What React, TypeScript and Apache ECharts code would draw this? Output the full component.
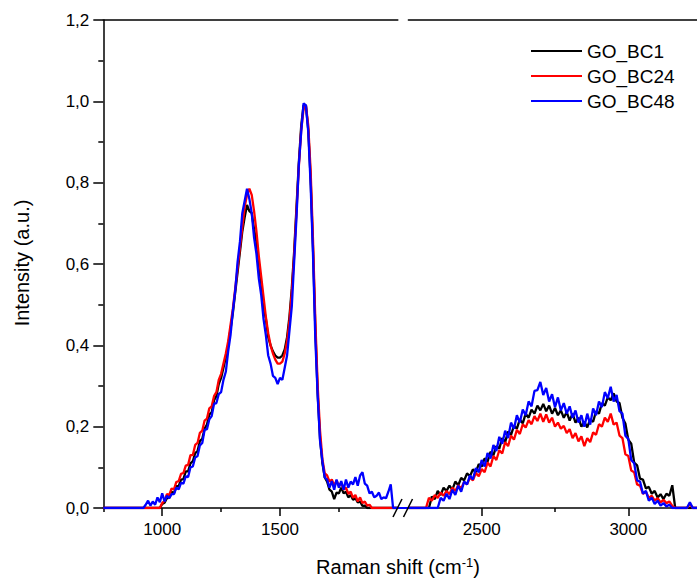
import React, { useEffect, useRef } from "react";
import * as echarts from "echarts";

// Raman shift grids (cm-1): sampled every STEP from each segment start
const LEFT_START = 750;
const RIGHT_START = 2250;
const STEP = 10;

const SERIES_NAMES = ["GO_BC1", "GO_BC24", "GO_BC48"];
const SERIES_COLORS = ["#000000", "#ff0000", "#0000ff"];

// Left segment 750 – 2000 cm-1
const bc1Left = [
  0, 0, 0, 0, 0, 0, 0, 0, 0, 0,
  0, 0, 0, 0, 0, 0, 0, 0, 0, 0,
  0, 0, 0, 0, 0, 0.01, 0.013, 0.024, 0.025, 0.04,
  0.036, 0.054, 0.054, 0.07, 0.071, 0.09, 0.09, 0.11, 0.115, 0.135,
  0.14, 0.165, 0.17, 0.195, 0.205, 0.23, 0.235, 0.265, 0.275, 0.305,
  0.32, 0.345, 0.37, 0.4, 0.44, 0.48, 0.53, 0.58, 0.63, 0.68,
  0.715, 0.745, 0.73, 0.725, 0.685, 0.655, 0.595, 0.555, 0.495, 0.465,
  0.42, 0.4, 0.385, 0.375, 0.37, 0.37, 0.375, 0.39, 0.42, 0.47,
  0.54, 0.63, 0.74, 0.85, 0.94, 0.99, 0.99, 0.93, 0.81, 0.64,
  0.44, 0.28, 0.17, 0.11, 0.075, 0.065, 0.045, 0.04, 0.022, 0.038,
  0.036, 0.05, 0.036, 0.04, 0.026, 0.032, 0.02, 0.024, 0.014, 0.016,
  0.005, 0.006, 0, 0, 0, 0, 0, 0, 0, 0,
  0, 0, 0, 0, 0, 0,
];
const bc24Left = [
  0, 0, 0, 0, 0, 0, 0, 0, 0, 0,
  0, 0, 0, 0, 0, 0, 0, 0, 0, 0,
  0, 0, 0, 0, 0, 0.012, 0.018, 0.034, 0.032, 0.048,
  0.046, 0.064, 0.066, 0.084, 0.086, 0.104, 0.106, 0.13, 0.13, 0.155,
  0.16, 0.185, 0.19, 0.215, 0.22, 0.245, 0.25, 0.275, 0.285, 0.315,
  0.33, 0.355, 0.38, 0.41, 0.45, 0.49, 0.54, 0.59, 0.64, 0.69,
  0.74, 0.77, 0.785, 0.77, 0.73, 0.68, 0.62, 0.57, 0.52, 0.47,
  0.43, 0.4, 0.38, 0.365, 0.355, 0.355, 0.36, 0.38, 0.41, 0.46,
  0.53, 0.62, 0.73, 0.84, 0.93, 0.98, 0.99, 0.94, 0.83, 0.66,
  0.46, 0.3, 0.19, 0.12, 0.085, 0.08, 0.065, 0.07, 0.055, 0.068,
  0.055, 0.062, 0.045, 0.05, 0.035, 0.04, 0.025, 0.032, 0.016, 0.026,
  0.012, 0.016, 0.006, 0.008, 0, 0, 0, 0, 0, 0,
  0, 0, 0, 0, 0, 0,
];
const bc48Left = [
  0, 0, 0, 0, 0, 0, 0, 0, 0, 0,
  0, 0, 0, 0, 0, 0, 0, 0, 0.008, 0.018,
  0.006, 0.016, 0.008, 0.026, 0.014, 0.036, 0.016, 0.03, 0.024, 0.034,
  0.034, 0.05, 0.046, 0.062, 0.06, 0.078, 0.076, 0.1, 0.102, 0.124,
  0.128, 0.154, 0.16, 0.192, 0.194, 0.218, 0.226, 0.256, 0.258, 0.28,
  0.285, 0.315, 0.335, 0.385, 0.425, 0.485, 0.535, 0.605, 0.655, 0.725,
  0.755, 0.785, 0.76, 0.725, 0.665, 0.625, 0.565, 0.525, 0.465, 0.425,
  0.375, 0.355, 0.325, 0.32, 0.305, 0.32, 0.315, 0.345, 0.375, 0.435,
  0.495, 0.605, 0.715, 0.845, 0.925, 0.995, 0.99, 0.925, 0.795, 0.625,
  0.415, 0.275, 0.165, 0.115, 0.075, 0.07, 0.05, 0.066, 0.045, 0.07,
  0.05, 0.066, 0.045, 0.07, 0.05, 0.065, 0.058, 0.076, 0.055, 0.08,
  0.088, 0.06, 0.055, 0.036, 0.04, 0.026, 0.03, 0.038, 0.022, 0.026,
  0.024, 0.04, 0.058, 0, 0, 0,
];

// Right segment 2250 – 3250 cm-1
const bc1Right = [
  0, 0, 0, 0, 0, 0, 0, 0, 0.028, 0.022,
  0.042, 0.032, 0.05, 0.042, 0.055, 0.045, 0.065, 0.056, 0.074, 0.068,
  0.085, 0.078, 0.095, 0.088, 0.108, 0.102, 0.122, 0.114, 0.138, 0.13,
  0.152, 0.146, 0.172, 0.162, 0.188, 0.18, 0.202, 0.195, 0.218, 0.208,
  0.232, 0.222, 0.242, 0.232, 0.252, 0.24, 0.256, 0.238, 0.252, 0.232,
  0.246, 0.228, 0.24, 0.222, 0.236, 0.215, 0.232, 0.21, 0.222, 0.2,
  0.212, 0.198, 0.218, 0.212, 0.238, 0.232, 0.258, 0.252, 0.272, 0.265,
  0.282, 0.262, 0.258, 0.222, 0.208, 0.168, 0.158, 0.112, 0.105, 0.072,
  0.07, 0.048, 0.052, 0.035, 0.042, 0.026, 0.034, 0.022, 0.035, 0.03,
  0.056, 0, 0, 0, 0, 0, 0, 0, 0, 0,
  0,
];
const bc24Right = [
  0, 0, 0, 0, 0, 0, 0, 0.025, 0.018, 0.032,
  0.025, 0.038, 0.03, 0.042, 0.034, 0.05, 0.042, 0.056, 0.048, 0.064,
  0.058, 0.075, 0.068, 0.086, 0.078, 0.096, 0.088, 0.112, 0.102, 0.128,
  0.118, 0.142, 0.134, 0.162, 0.152, 0.178, 0.168, 0.192, 0.182, 0.206,
  0.198, 0.216, 0.206, 0.226, 0.214, 0.232, 0.212, 0.23, 0.21, 0.222,
  0.2, 0.21, 0.195, 0.202, 0.184, 0.194, 0.172, 0.184, 0.164, 0.176,
  0.152, 0.172, 0.162, 0.186, 0.18, 0.206, 0.2, 0.222, 0.212, 0.232,
  0.205, 0.21, 0.178, 0.172, 0.132, 0.128, 0.092, 0.088, 0.058, 0.055,
  0.035, 0.04, 0.025, 0.03, 0.018, 0.024, 0.014, 0.02, 0.012, 0.016,
  0.005, 0, 0, 0, 0, 0, 0.01, 0, 0, 0,
  0,
];
const bc48Right = [
  0, 0, 0, 0, 0, 0, 0, 0, 0, 0,
  0, 0.025, 0.018, 0.035, 0.022, 0.045, 0.032, 0.055, 0.04, 0.065,
  0.058, 0.08, 0.07, 0.098, 0.088, 0.118, 0.102, 0.135, 0.122, 0.155,
  0.14, 0.175, 0.158, 0.19, 0.172, 0.21, 0.195, 0.228, 0.21, 0.242,
  0.228, 0.262, 0.25, 0.288, 0.29, 0.31, 0.278, 0.295, 0.262, 0.28,
  0.248, 0.272, 0.24, 0.258, 0.232, 0.25, 0.222, 0.24, 0.21, 0.228,
  0.2, 0.232, 0.205, 0.245, 0.228, 0.262, 0.248, 0.285, 0.27, 0.298,
  0.262, 0.278, 0.238, 0.232, 0.178, 0.17, 0.118, 0.11, 0.068, 0.065,
  0.035, 0.042, 0.018, 0.025, 0.01, 0.018, 0.006, 0.012, 0.004, 0.008,
  0, 0, 0, 0, 0, 0, 0.014, 0, 0, 0,
  0,
];

// Axis ticks
const LEFT_RANGE = [750, 2000];
const RIGHT_RANGE = [2250, 3250];
const LEFT_MAJOR = [1000, 1500];
const LEFT_MINOR = [750, 1250, 1750];
const RIGHT_MAJOR = [2500, 3000];
const RIGHT_MINOR = [2750];
const Y_MIN = 0;
const Y_MAX = 1.2;
const Y_INTERVAL = 0.2;

const FONT = '"Liberation Sans", Arial, Helvetica, sans-serif';

function toPairs(start: number, values: number[]) {
  return values.map((v, i) => [start + i * STEP, v]);
}

export default function App() {
  const ref = useRef<HTMLDivElement>(null);

  useEffect(() => {
    if (!ref.current) return;
    const chart = echarts.init(ref.current, undefined, { renderer: "svg" });

    const leftData = [bc1Left, bc24Left, bc48Left];
    const rightData = [bc1Right, bc24Right, bc48Right];

    const axisLineStyle = { color: "#000", width: 1.5 };
    const labelStyle = { color: "#000", fontSize: 17, fontFamily: FONT };

    const makeX = (
      gridIndex: number,
      range: number[],
      major: number[],
      minor: number[]
    ) => [
      {
        type: "value",
        gridIndex,
        min: range[0],
        max: range[1],
        position: "bottom",
        axisLine: { show: true, onZero: false, lineStyle: axisLineStyle },
        axisTick: { show: true, customValues: major, length: 8, lineStyle: axisLineStyle },
        axisLabel: {
          show: true,
          customValues: major,
          margin: 13,
          ...labelStyle,
          formatter: (v: number) => String(v),
        },
        splitLine: { show: false },
      },
      {
        type: "value",
        gridIndex,
        min: range[0],
        max: range[1],
        position: "bottom",
        axisLine: { show: false },
        axisTick: { show: true, customValues: minor, length: 4, lineStyle: axisLineStyle },
        axisLabel: { show: false },
        splitLine: { show: false },
      },
      {
        type: "value",
        gridIndex,
        min: range[0],
        max: range[1],
        position: "top",
        axisLine: { show: true, onZero: false, lineStyle: axisLineStyle },
        axisTick: { show: false },
        axisLabel: { show: false },
        splitLine: { show: false },
      },
    ];

    const xAxes = [
      ...makeX(0, LEFT_RANGE, LEFT_MAJOR, LEFT_MINOR),
      ...makeX(1, RIGHT_RANGE, RIGHT_MAJOR, RIGHT_MINOR),
    ];

    const series: any[] = [];
    SERIES_NAMES.forEach((name, k) => {
      series.push({
        type: "line",
        name,
        xAxisIndex: 0,
        yAxisIndex: 0,
        data: toPairs(LEFT_START, leftData[k]),
        showSymbol: false,
        symbol: "none",
        lineStyle: { color: SERIES_COLORS[k], width: 2.3 },
        itemStyle: { color: SERIES_COLORS[k] },
        z: 2 + k,
      });
    });
    SERIES_NAMES.forEach((name, k) => {
      series.push({
        type: "line",
        name,
        xAxisIndex: 3,
        yAxisIndex: 1,
        data: toPairs(RIGHT_START, rightData[k]),
        showSymbol: false,
        symbol: "none",
        lineStyle: { color: SERIES_COLORS[k], width: 2.3 },
        itemStyle: { color: SERIES_COLORS[k] },
        z: 2 + k,
      });
    });

    chart.setOption({
      animation: false,
      backgroundColor: "#fff",
      grid: [
        { left: 103.3, top: 20, width: 294.5, height: 488, containLabel: false, outerBoundsMode: "none" },
        { left: 408.4, top: 20, width: 293.2, height: 488, containLabel: false, outerBoundsMode: "none" },
      ],
      xAxis: xAxes,
      yAxis: [
        {
          type: "value",
          gridIndex: 0,
          min: Y_MIN,
          max: Y_MAX,
          interval: Y_INTERVAL,
          axisLine: { show: true, onZero: false, lineStyle: axisLineStyle },
          axisTick: { show: true, length: 10, lineStyle: axisLineStyle },
          minorTick: { show: true, splitNumber: 2, length: 5, lineStyle: axisLineStyle },
          axisLabel: {
            margin: 14,
            ...labelStyle,
            formatter: (v: number) => v.toFixed(1).replace(".", ","),
          },
          splitLine: { show: false },
          minorSplitLine: { show: false },
        },
        {
          type: "value",
          gridIndex: 1,
          min: Y_MIN,
          max: Y_MAX,
          interval: Y_INTERVAL,
          show: false,
          splitLine: { show: false },
        },
      ],
      legend: {
        data: SERIES_NAMES,
        orient: "vertical",
        left: 526,
        top: 36,
        itemWidth: 51,
        itemHeight: 14,
        itemGap: 5,
        icon: "path://M0,6 L51,6 L51,8 L0,8 Z",
        textStyle: { color: "#000", fontSize: 19, fontFamily: FONT, lineHeight: 20 },
      },
      graphic: [
        {
          type: "line",
          shape: { x1: 397.8, y1: 508, x2: 408.4, y2: 508 },
          style: { stroke: "#0000ff", lineWidth: 2 },
          z: 10,
        },
        {
          type: "line",
          shape: { x1: 393, y1: 517, x2: 402, y2: 499 },
          style: { stroke: "#000", lineWidth: 1.5 },
          z: 11,
        },
        {
          type: "line",
          shape: { x1: 403.5, y1: 517, x2: 412.5, y2: 499 },
          style: { stroke: "#000", lineWidth: 1.5 },
          z: 11,
        },
        {
          type: "text",
          x: 22,
          y: 263,
          rotation: Math.PI / 2,
          style: {
            text: "Intensity (a.u.)",
            align: "center",
            verticalAlign: "middle",
            fontSize: 20,
            fontFamily: FONT,
            fill: "#000",
          },
        },
        {
          type: "text",
          x: 398,
          y: 567,
          style: {
            text: "Raman shift (cm{sup|-1})",
            align: "center",
            verticalAlign: "middle",
            fontSize: 20,
            fontFamily: FONT,
            fill: "#000",
            rich: {
              sup: { fontSize: 13, fontFamily: FONT, fill: "#000", verticalAlign: "top", lineHeight: 22 },
            },
          },
        },
      ],
      series,
    });

    return () => chart.dispose();
  }, []);

  return (
    <div
      ref={ref}
      style={{ position: "absolute", left: 0, top: 0, width: 697, height: 580, background: "#fff" }}
    />
  );
}
